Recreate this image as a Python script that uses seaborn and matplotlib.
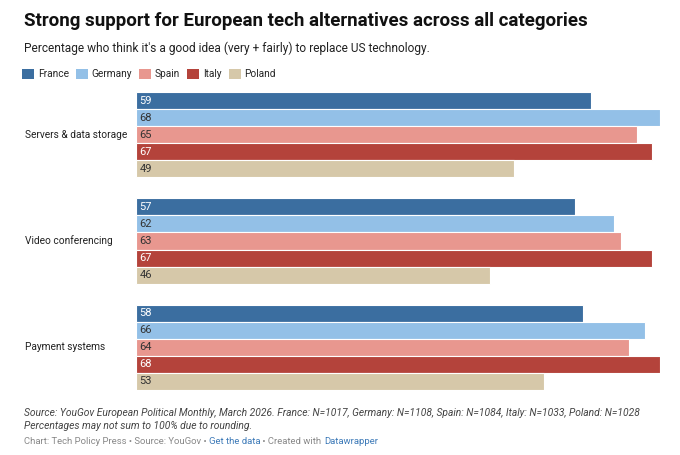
import matplotlib
matplotlib.use('Agg')
import matplotlib.pyplot as plt
import matplotlib.transforms as mtransforms
from matplotlib.patches import Patch
import seaborn as sns
import pandas as pd

categories = ['Servers & data storage', 'Video conferencing', 'Payment systems']
countries = ['France', 'Germany', 'Spain', 'Italy', 'Poland']
france = [59, 57, 58]
germany = [68, 62, 66]
spain = [65, 63, 64]
italy = [67, 67, 68]
poland = [49, 46, 53]

colors = ['#3b6ea0', '#93c0e7', '#e8978f', '#b4433b', '#d6c8a9']
label_colors = ['white', '#333333', '#333333', 'white', '#333333']

rows = []
for country, vals in zip(countries, [france, germany, spain, italy, poland]):
    for cat, v in zip(categories, vals):
        rows.append({'category': cat, 'country': country, 'value': v})
df = pd.DataFrame(rows)

sns.set_theme(style='white')
plt.rcParams['font.family'] = ['Roboto', 'DejaVu Sans']

fig = plt.figure(figsize=(6.8, 4.55), dpi=100)
ax = fig.add_axes([136/680, 1-390/455, 524/680, 298/455])

sns.barplot(data=df, y='category', x='value', hue='country', order=categories,
            hue_order=countries, palette=colors, orient='h', ax=ax,
            edgecolor='white', linewidth=0.8, legend=False, saturation=1)

ax.set_xlim(0, 68)
ax.set_ylim(2.4, -0.4)
ax.set_xlabel('')
ax.set_ylabel('')
ax.set_xticks([])
ax.set_yticks([])
for s in ax.spines.values():
    s.set_visible(False)

# value labels inside left of each bar
for cont, lc in zip(ax.containers, label_colors):
    for p in cont.patches:
        yc = p.get_y() + p.get_height() / 2
        ax.text(0.45, yc, f'{p.get_width():.0f}', va='center', ha='left',
                fontsize=8, color=lc)

# category labels on the left
trans = mtransforms.blended_transform_factory(fig.transFigure, ax.transData)
for i, cat in enumerate(categories):
    ax.text(25/680, i, cat, transform=trans, ha='left', va='center',
            fontsize=7.3, color='#222222')

fig.text(24/680, 1-21/455, 'Strong support for European tech alternatives across all categories',
         fontsize=13.5, fontweight='bold', color='#111111', va='center')
fig.text(24/680, 1-48/455, "Percentage who think it's a good idea (very + fairly) to replace US technology.",
         fontsize=8.6, color='#222222', va='center')

handles = [Patch(facecolor=c, edgecolor='none', label=n) for c, n in zip(colors, countries)]
fig.legend(handles=handles, loc='center left', bbox_to_anchor=(20/680, 1-74/455),
           ncol=5, frameon=False, fontsize=7.3, handlelength=1.2, handleheight=1.2,
           handletextpad=0.35, columnspacing=0.7, borderaxespad=0, borderpad=0.2)

fig.text(24/680, 1-413/455,
         'Source: YouGov European Political Monthly, March 2026. France: N=1017, Germany: N=1108, Spain: N=1084, Italy: N=1033, Poland: N=1028',
         fontsize=7.4, style='italic', color='#444444', va='center')
fig.text(24/680, 1-426/455, 'Percentages may not sum to 100% due to rounding.',
         fontsize=7.4, style='italic', color='#444444', va='center')

parts = [('Chart: Tech Policy Press • Source: YouGov • ', '#888888'),
         ('Get the data', '#3d7ab8'), (' • Created with ', '#888888'), ('Datawrapper', '#3d7ab8')]
fig.canvas.draw()
x = 24/680
for txt, col in parts:
    t = fig.text(x, 1-441/455, txt, fontsize=6.8, color=col, va='center')
    bb = t.get_window_extent(renderer=fig.canvas.get_renderer())
    x += bb.width / fig.bbox.width

fig.savefig('out.png', dpi=100)
